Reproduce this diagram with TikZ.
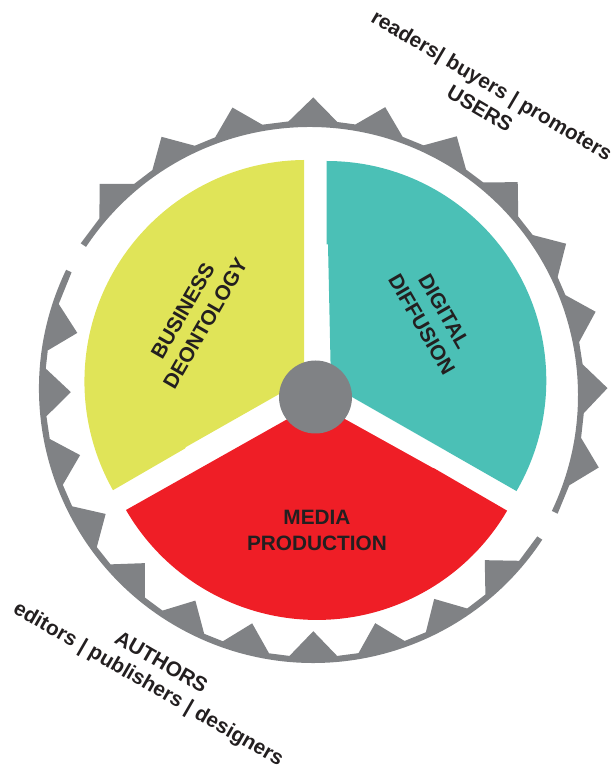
\documentclass[tikz,border=0pt]{standalone}
\usepackage{fontspec}
\setmainfont{Liberation Sans}
\definecolor{ringgray}{HTML}{808285}
\definecolor{hubgray}{HTML}{808285}
\definecolor{yellowsec}{HTML}{E0E458}
\definecolor{tealsec}{HTML}{4BC0B6}
\definecolor{redsec}{HTML}{EF1E26}
\definecolor{inkdark}{HTML}{231F20}
\tikzset{
  x=1pt,y=1pt,
  sectorlabel/.style={font=\bfseries\fontsize{20.8}{26}\selectfont,text=inkdark,align=center,inner sep=0pt},
  outerlabel/.style={font=\bfseries\fontsize{20.8}{24}\selectfont,text=inkdark,inner sep=0pt},
}
\begin{document}
\begin{tikzpicture}
\useasboundingbox (0,0) rectangle (615,769);
% upper ring: teeth outward
\begin{scope}[shift={(309.6,373.6)}]
\fill[ringgray]
  (146.4:268.4) arc[start angle=146.4,end angle=-25.5,radius=268.4]
  -- (-25.5:274.8)
  \foreach \a in {-14,1.4,16.3,30.6,45.7,60.4,75.3,89.3,105,119.8,134.8}{ -- (\a-5.1:274.8) -- (\a:298) -- (\a+5.1:274.8) }
  -- (146.4:274.8) -- cycle;
\end{scope}
% lower ring: teeth inward
\begin{scope}[shift={(313.3,380.3)}]
\fill[ringgray]
  (154.3:274.3) arc[start angle=154.3,end angle=326.6,radius=274.3]
  -- (326.6:268.3)
  \foreach \a in {315,299.9,284.8,270,255.4,240.9,226,211.1,195.9,180.8,166.7}{ -- (\a+5.1:268.3) -- (\a:242.5) -- (\a-5.1:268.3) }
  -- (154.3:268.3) -- cycle;
\end{scope}
% sectors
\fill[yellowsec] (304,609) arc[start angle=90.5,end angle=209.4,radius=221.5]
  -- (185,320.5) -- (186,322) -- (304,389) -- cycle;
\fill[tealsec] (326.7,608) arc[start angle=90,end angle=-30.2,radius=219.6]
  -- (331,384) -- (328,524.5) -- (326.7,524.5) -- cycle;
\fill[redsec] (126,259) arc[start angle=210.1,end angle=329.7,radius=220.5]
  -- (434.5,300.5) -- (433,301) -- (316,366) -- cycle;
\node[circle,fill=hubgray,minimum size=73pt,inner sep=0pt] (hub) at (315.5,372) {};
\node[sectorlabel] (media) at (317,239) {MEDIA\\PRODUCTION};
\node[sectorlabel,rotate=60] (business) at (194,452) {BUSINESS\\DEONTOLOGY};
\node[sectorlabel,rotate=-60] (digital) at (433,451) {DIGITAL\\DIFFUSION};
\node[outerlabel,rotate=-30.5] (users) at (480,660.5) {USERS};
\node[outerlabel,rotate=-30.5] (readers) at (491,682) {readers| buyers | promoters};
\node[outerlabel,rotate=-30] (authors) at (161.5,107) {AUTHORS};
\node[outerlabel,rotate=-30] (editors) at (148,84) {editors | publishers | designers};
\end{tikzpicture}
\end{document}
